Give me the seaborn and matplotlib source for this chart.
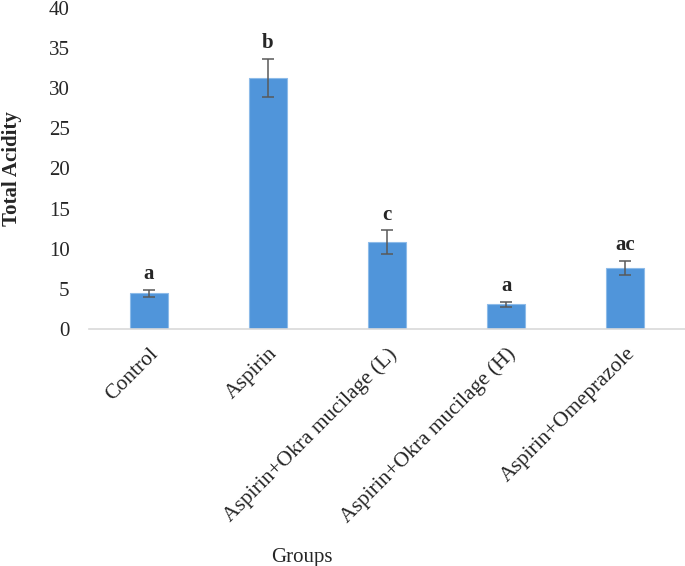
import matplotlib
matplotlib.use("Agg")
import matplotlib.pyplot as plt
import seaborn as sns
import pandas as pd

# values
groups = [
    "Control",
    "Aspirin",
    "Aspirin+Okra mucilage (L)",
    "Aspirin+Okra mucilage (H)",
    "Aspirin+Omeprazole",
]
means = [4.45, 31.3, 10.8, 3.1, 7.6]
sds = [0.45, 2.4, 1.5, 0.3, 0.9]
letters = ["a", "b", "c", "a", "ac"]

df = pd.DataFrame({"Group": groups, "Total Acidity": means, "SD": sds})

sns.set_theme(style="white")
plt.rcParams["font.family"] = ["Liberation Serif", "DejaVu Serif"]

fig = plt.figure(figsize=(6.85, 5.66), dpi=100)
ax = fig.add_axes([0.130, 0.4187, 0.870, 0.5672])

sns.barplot(data=df, x="Group", y="Total Acidity", color="#5095da",
            width=0.32, saturation=1, edgecolor="#8dbbe9", linewidth=0.8, ax=ax)

ax.errorbar(range(len(groups)), df["Total Acidity"], yerr=df["SD"],
            fmt="none", ecolor="#595959", elinewidth=1.1, capsize=4.5, capthick=1.1)

# significance letters above each error bar
for i, (m, s, lab) in enumerate(zip(means, sds, letters)):
    ax.annotate(lab, (i, m + s), xytext=(0, 4), textcoords="offset points",
                ha="center", va="bottom", fontsize=15, fontweight="bold")

ax.set_ylim(0, 40)
ax.set_xlim(-0.5, len(groups) - 0.5)
ax.set_yticks(range(0, 41, 5))
ax.tick_params(axis="y", labelsize=15, pad=14, length=0)
ax.tick_params(axis="x", labelsize=15.5, pad=11, length=0)
plt.setp(ax.get_xticklabels(), rotation=45, ha="right", rotation_mode="anchor")

for side in ["left", "right", "top"]:
    ax.spines[side].set_visible(False)
ax.spines["bottom"].set_color("#d9d9d9")
ax.spines["bottom"].set_linewidth(1.2)

ax.set_xlabel("Groups", fontsize=15)
ax.set_ylabel("Total Acidity", fontsize=15, fontweight="bold", va="center")
ax.xaxis.set_label_coords(0.357, -0.683)
ax.yaxis.set_label_coords(-0.13, 0.5)

fig.savefig("out.png", dpi=100)
